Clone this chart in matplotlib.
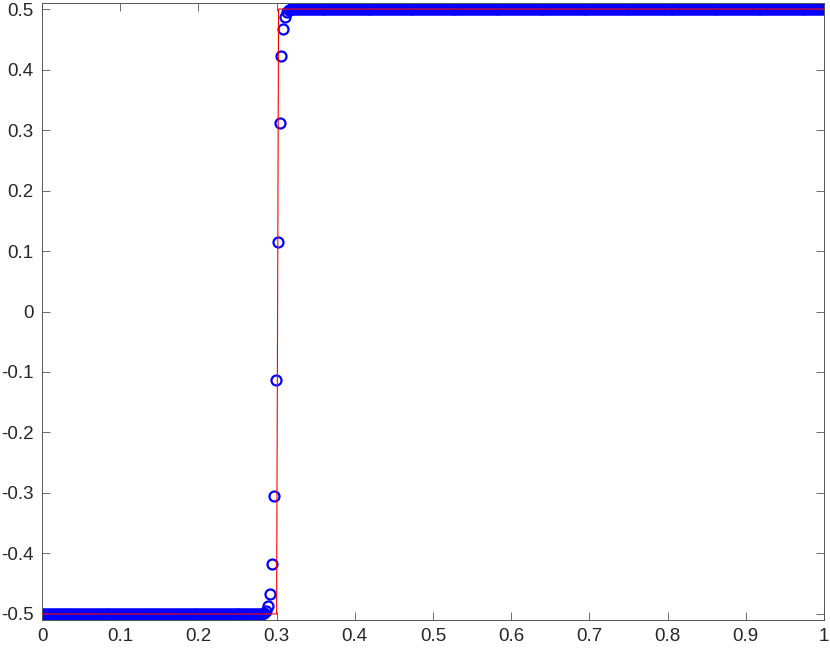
import numpy as np
import matplotlib
matplotlib.use("Agg")
import matplotlib.pyplot as plt

# ---- data ----
n_cells = 400
x_num = (np.arange(n_cells) + 0.5) / n_cells           # cell centres
left_state = -0.5
right_state = 0.5
# transition values (cells 113..126)
trans_start = 113
trans_vals = [-0.498, -0.495, -0.487, -0.467, -0.418, -0.305, -0.113,
              0.115, 0.311, 0.423, 0.467, 0.487, 0.495, 0.498]
u_num = np.concatenate([
    np.full(trans_start, left_state),
    np.array(trans_vals),
    np.full(n_cells - trans_start - len(trans_vals), right_state),
])

exact_x = [0.0, 0.3, 0.3025, 1.0]
exact_u = [-0.5, -0.5, 0.5, 0.5]

xticks = [0, 0.1, 0.2, 0.3, 0.4, 0.5, 0.6, 0.7, 0.8, 0.9, 1]
xticklabels = ["0", "0.1", "0.2", "0.3", "0.4", "0.5", "0.6", "0.7", "0.8", "0.9", "1"]
yticks = [-0.5, -0.4, -0.3, -0.2, -0.1, 0, 0.1, 0.2, 0.3, 0.4, 0.5]
yticklabels = ["-0.5", "-0.4", "-0.3", "-0.2", "-0.1", "0", "0.1", "0.2", "0.3", "0.4", "0.5"]

# ---- figure ----
plt.rcParams['font.family'] = ['Liberation Sans', 'DejaVu Sans']
fig = plt.figure(figsize=(8.30, 6.49), dpi=100)
ax = fig.add_axes([42 / 830, 29 / 649, (824 - 42) / 830, (620 - 3) / 649])

ax.plot(x_num, u_num, linestyle='none', marker='o', markersize=7.2,
        markerfacecolor='none', markeredgecolor=(0, 0, 1), markeredgewidth=1.6,
        zorder=2)
ax.plot(exact_x, exact_u, color=(1, 0, 0), linewidth=0.8, zorder=3)

ax.set_xlim(0, 1)
ax.set_ylim(-0.51, 0.51)
ax.set_xticks(xticks)
ax.set_xticklabels(xticklabels)
ax.set_yticks(yticks)
ax.set_yticklabels(yticklabels)

axcol = '#262626'
for s in ax.spines.values():
    s.set_color('#555555')
    s.set_linewidth(0.7)
ax.tick_params(direction='in', top=True, right=True, length=5.6, width=0.6,
               color='#555555', labelcolor=axcol, labelsize=13.5)
ax.tick_params(axis='x', pad=6)
ax.tick_params(axis='y', pad=6)

fig.savefig("out.png", dpi=100)
